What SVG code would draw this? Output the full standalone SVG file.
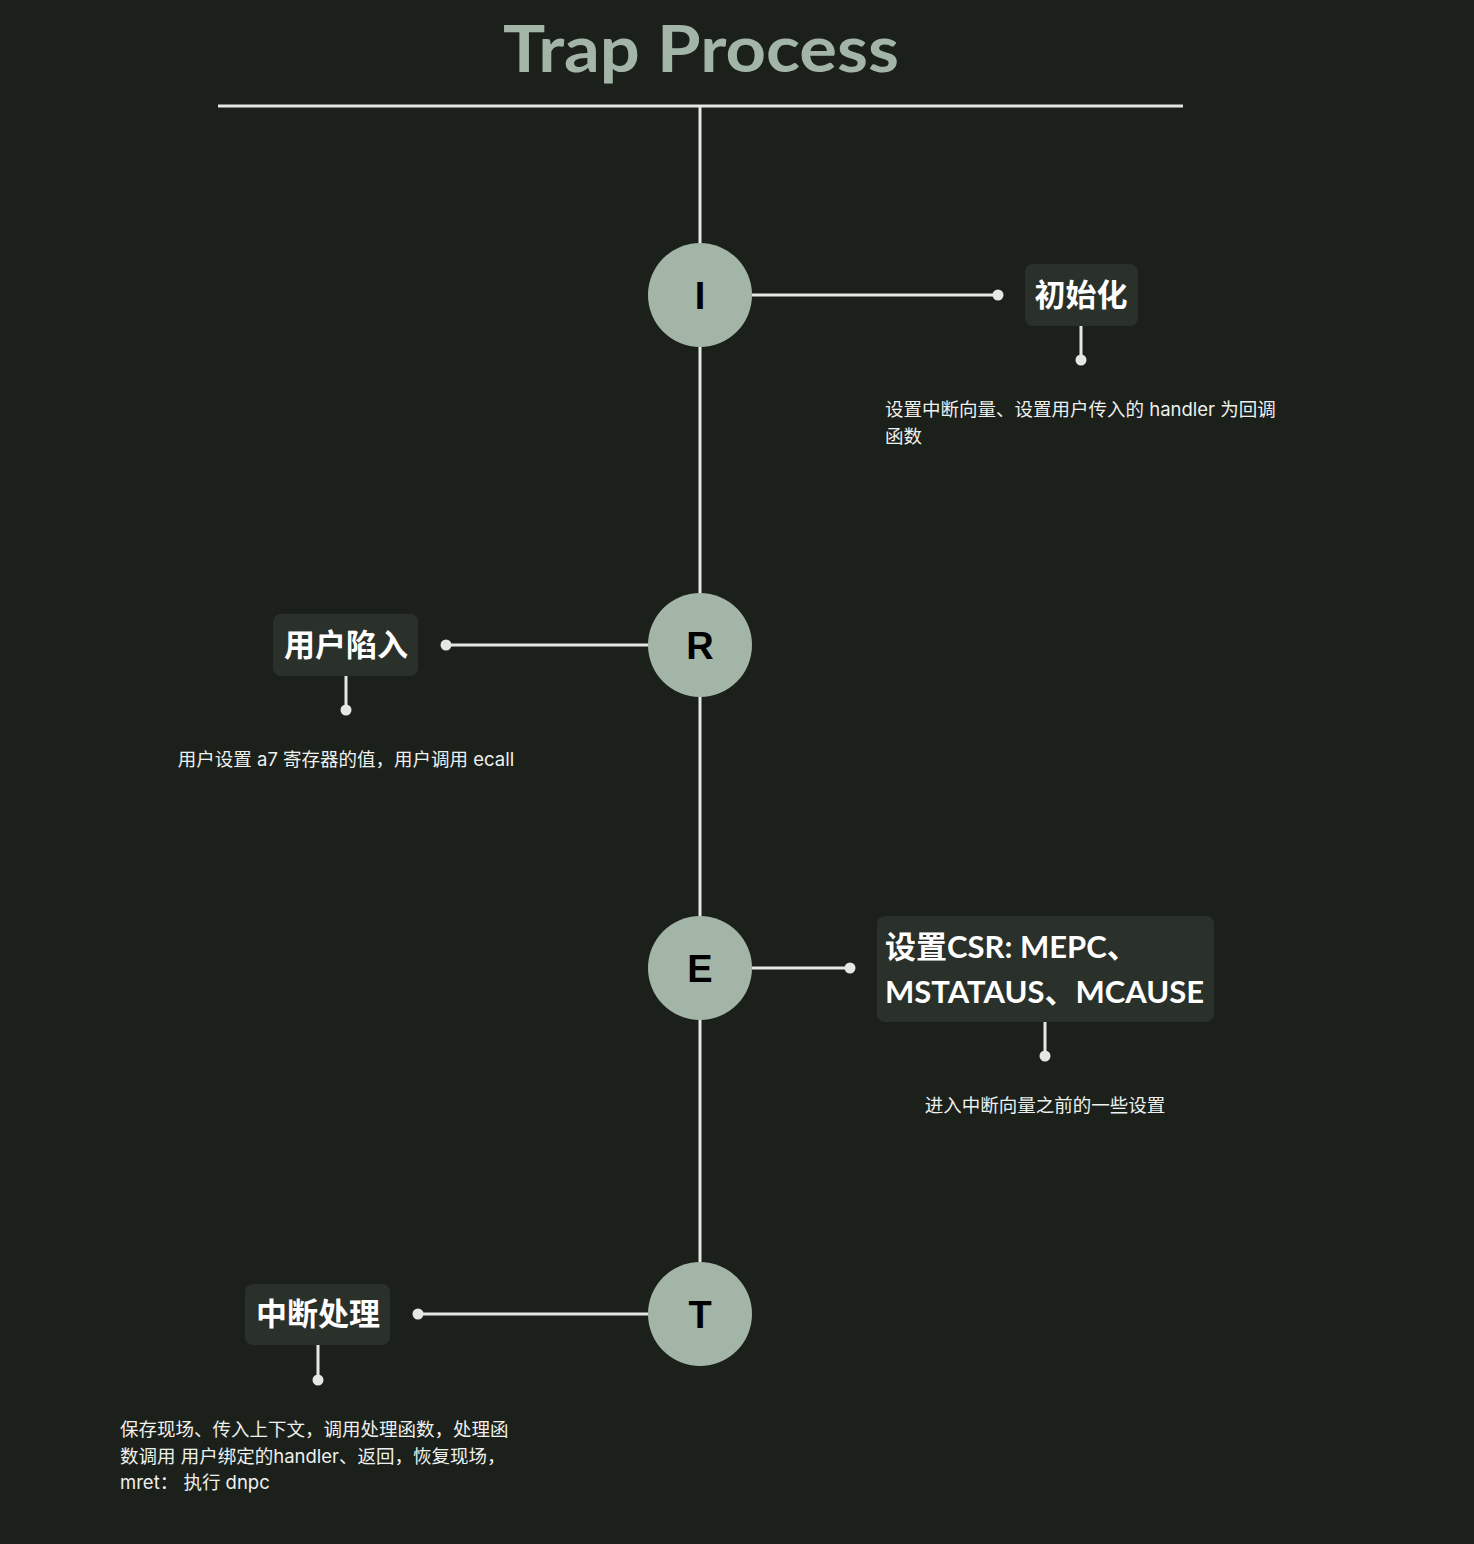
<svg xmlns="http://www.w3.org/2000/svg" width="1474" height="1544" viewBox="0 0 1474 1544">
<style>
.title{font-family:"Lato","Noto Sans","Noto Sans CJK SC",sans-serif;font-weight:700;font-size:65px;fill:#a3b5a6}
.ln{stroke:#e3e8e3;stroke-width:3;fill:none}
.dot{fill:#e3e8e3}
.circ{fill:#a3b5a6}
.letter{font-family:"Liberation Sans","Noto Sans",sans-serif;font-weight:700;font-size:38px;fill:#000;text-anchor:middle}
.box{fill:#2a302a}
.lbl{font-family:"Lato","Noto Sans CJK SC",sans-serif;font-weight:700;font-size:31px;fill:#ffffff}
.desc{font-family:"Inter","Noto Sans CJK SC",sans-serif;font-size:18.5px;fill:#eef1ee}
</style>
<rect width="1474" height="1544" fill="#1c201b"/>
<text class="title" x="503" y="72" textLength="396" lengthAdjust="spacingAndGlyphs">Trap Process</text>
<g id="connectors">
<line class="ln" x1="218" y1="106" x2="1183" y2="106"/>
<line class="ln" x1="700" y1="106" x2="700" y2="1290"/>
<line class="ln" x1="752" y1="295" x2="998" y2="295"/>
<circle class="dot" cx="998" cy="295" r="5.5"/>
<line class="ln" x1="1081" y1="326" x2="1081" y2="360"/>
<circle class="dot" cx="1081" cy="360" r="5.5"/>
<line class="ln" x1="446" y1="645" x2="648" y2="645"/>
<circle class="dot" cx="446" cy="645" r="5.5"/>
<line class="ln" x1="346" y1="676" x2="346" y2="710"/>
<circle class="dot" cx="346" cy="710" r="5.5"/>
<line class="ln" x1="752" y1="968" x2="850" y2="968"/>
<circle class="dot" cx="850" cy="968" r="5.5"/>
<line class="ln" x1="1045" y1="1022" x2="1045" y2="1056"/>
<circle class="dot" cx="1045" cy="1056" r="5.5"/>
<line class="ln" x1="418" y1="1314" x2="648" y2="1314"/>
<circle class="dot" cx="418" cy="1314" r="5.5"/>
<line class="ln" x1="318" y1="1345" x2="318" y2="1380"/>
<circle class="dot" cx="318" cy="1380" r="5.5"/>
</g>
<g id="node-I">
<circle class="circ" cx="700" cy="295" r="52"/>
<text class="letter" x="700" y="309">I</text>
</g>
<g id="node-init">
<rect class="box" x="1025" y="264" width="113" height="62" rx="8"/>
<text class="lbl" x="1081" y="306" text-anchor="middle">初始化</text>
<text class="desc" x="885" y="416">设置中断向量、设置用户传入的 handler 为回调</text>
<text class="desc" x="885" y="443">函数</text>
</g>
<g id="node-R">
<circle class="circ" cx="700" cy="645" r="52"/>
<text class="letter" x="700" y="659">R</text>
</g>
<g id="node-trap">
<rect class="box" x="273" y="614" width="145" height="62" rx="8"/>
<text class="lbl" x="346" y="656" text-anchor="middle">用户陷入</text>
<text class="desc" x="346" y="766" text-anchor="middle">用户设置 a7 寄存器的值，用户调用 ecall</text>
</g>
<g id="node-E">
<circle class="circ" cx="700" cy="968" r="52"/>
<text class="letter" x="700" y="982">E</text>
</g>
<g id="node-csr">
<rect class="box" x="877" y="916" width="337" height="106" rx="8"/>
<text class="lbl" x="885" y="958">设置CSR: MEPC、</text>
<text class="lbl" x="885" y="1003">MSTATAUS、MCAUSE</text>
<text class="desc" x="1045" y="1112" text-anchor="middle">进入中断向量之前的一些设置</text>
</g>
<g id="node-T">
<circle class="circ" cx="700" cy="1314" r="52"/>
<text class="letter" x="700" y="1328">T</text>
</g>
<g id="node-handle">
<rect class="box" x="245" y="1284" width="145" height="61" rx="8"/>
<text class="lbl" x="318" y="1325" text-anchor="middle">中断处理</text>
<text class="desc" x="120" y="1436">保存现场、传入上下文，调用处理函数，处理函</text>
<text class="desc" x="120" y="1463">数调用 用户绑定的handler、返回，恢复现场，</text>
<text class="desc" x="120" y="1489">mret：  执行 dnpc</text>
</g>
</svg>
